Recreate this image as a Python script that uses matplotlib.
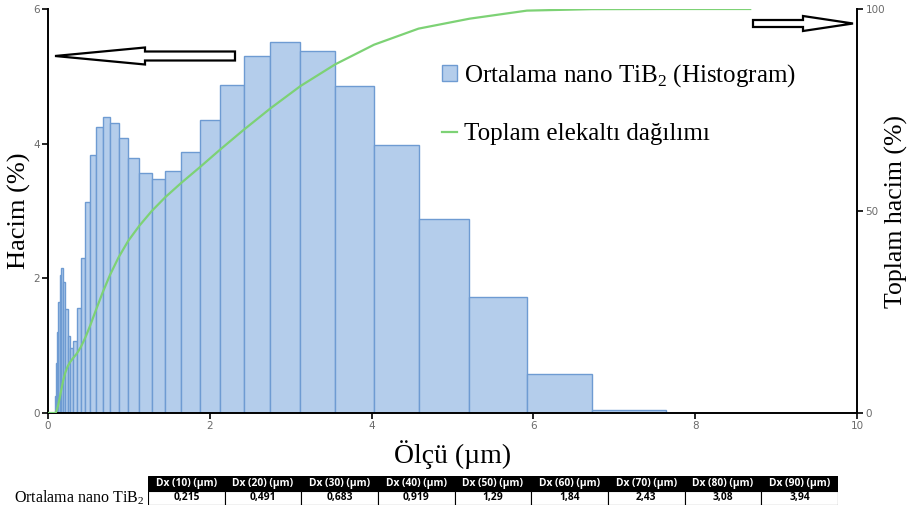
import numpy as np
import matplotlib
matplotlib.use("Agg")
import matplotlib.pyplot as plt
from matplotlib.patches import Patch, Rectangle, FancyArrow
from matplotlib.lines import Line2D
from matplotlib.transforms import IdentityTransform

plt.rcParams['font.family'] = ['Liberation Serif', 'DejaVu Serif']
plt.rcParams['mathtext.fontset'] = 'custom'
plt.rcParams['mathtext.rm'] = 'Liberation Serif'

# size class edges (um) and volume % per class
bin_edges = [0.0876, 0.0995, 0.113, 0.128, 0.146, 0.166, 0.188, 0.214, 0.243, 0.276,
             0.314, 0.357, 0.405, 0.460, 0.523, 0.594, 0.675, 0.767, 0.872, 0.991,
             1.13, 1.28, 1.45, 1.65, 1.88, 2.13, 2.42, 2.75, 3.12, 3.55,
             4.03, 4.58, 5.21, 5.92, 6.72, 7.64]
hacim = [0.25, 0.75, 1.2, 1.65, 2.05, 2.15, 1.95, 1.55, 1.15, 0.97,
         1.07, 1.56, 2.30, 3.13, 3.83, 4.25, 4.39, 4.31, 4.08, 3.78,
         3.57, 3.48, 3.59, 3.88, 4.35, 4.87, 5.30, 5.51, 5.38, 4.86,
         3.98, 2.88, 1.73, 0.58, 0.04]

# cumulative undersize curve
cum_x = [0.01, 0.0876, 0.0995, 0.113, 0.128, 0.146, 0.166, 0.188, 0.214, 0.243,
         0.276, 0.314, 0.357, 0.405, 0.460, 0.523, 0.594, 0.675, 0.767, 0.872,
         0.991, 1.13, 1.28, 1.45, 1.65, 1.88, 2.13, 2.42, 2.75, 3.12,
         3.55, 4.03, 4.58, 5.21, 5.92, 6.72, 7.64, 8.68]
cum_y = [0, 0, 0.25, 1.0, 2.2, 3.85, 5.9, 8.05, 10.0, 11.55,
         12.7, 13.67, 14.74, 16.3, 18.6, 21.73, 25.56, 29.81, 34.2, 38.51,
         42.59, 46.37, 49.94, 53.42, 57.01, 60.89, 65.24, 70.11, 75.41, 80.92,
         86.3, 91.16, 95.14, 97.6, 99.6, 99.96, 100, 100]

# Dx table
dx_headers = ["Dx (10) (µm)", "Dx (20) (µm)", "Dx (30) (µm)", "Dx (40) (µm)", "Dx (50) (µm)",
              "Dx (60) (µm)", "Dx (70) (µm)", "Dx (80) (µm)", "Dx (90) (µm)"]
dx_values = ["0,215", "0,491", "0,683", "0,919", "1,29", "1,84", "2,43", "3,08", "3,94"]

bar_face = '#b4cdeb'
bar_edge = '#6e9bd2'
line_col = '#7dd275'
tick_col = '#6a6a6a'

W, H = 912, 515
fig = plt.figure(figsize=(W/100, H/100), dpi=100)
ax = fig.add_axes([48/W, 1-413/H, (857-48)/W, (413-9)/H])

left = np.array(bin_edges[:-1])
widths = np.diff(bin_edges)
ax.bar(left, hacim, width=widths, align='edge', color=bar_face, edgecolor=bar_edge, linewidth=1.0)
ax.set_xlim(0, 10)
ax.set_ylim(0, 6)
ax.set_xticks([0, 2, 4, 6, 8, 10])
ax.set_yticks([0, 2, 4, 6])
ax.spines['top'].set_visible(False)
ax.spines['right'].set_visible(False)
ax.spines['left'].set_linewidth(1.4)
ax.spines['bottom'].set_linewidth(1.4)
ax.tick_params(direction='out', length=4, width=1.2, labelsize=7.5, labelcolor=tick_col, pad=2)
for lab in ax.get_xticklabels() + ax.get_yticklabels():
    lab.set_fontfamily('DejaVu Sans')
ax.set_xlabel("Ölçü (µm)", fontsize=20, labelpad=6)
ax.set_ylabel("Hacim (%)", fontsize=19)
ax.yaxis.set_label_coords(-0.021, 0.5)

ax2 = ax.twinx()
ax2.plot(cum_x, cum_y, color=line_col, linewidth=1.6)
ax2.set_ylim(0, 100)
ax2.set_yticks([0, 50, 100])
for s in ['top', 'left', 'bottom']:
    ax2.spines[s].set_visible(False)
ax2.spines['right'].set_linewidth(1.4)
ax2.tick_params(direction='out', length=4, width=1.2, labelsize=7.5, labelcolor=tick_col, pad=2)
for lab in ax2.get_yticklabels():
    lab.set_fontfamily('DejaVu Sans')
ax2.set_ylabel("Toplam hacim (%)", fontsize=18.5)
ax2.yaxis.set_label_coords(1.034, 0.5)

handles = [Patch(facecolor=bar_face, edgecolor=bar_edge, linewidth=1.0),
           Line2D([], [], color=line_col, linewidth=1.6)]
labels = ["Ortalama nano TiB$_2$ (Histogram)", "Toplam elekaltı dağılımı"]
ax2.legend(handles, labels, loc='upper left', bbox_to_anchor=(430/W, 1-50/H),
           bbox_transform=fig.transFigure, frameon=False, fontsize=18,
           handlelength=0.6, handleheight=0.6, handletextpad=0.25, labelspacing=1.35,
           borderpad=0)

# hollow arrows pointing to the axes
def hollow_arrow(x0, x1, y, w, hw, hl):
    a = FancyArrow(x0, H - y, x1 - x0, 0, width=w, head_width=hw, head_length=hl,
                   length_includes_head=True, facecolor='white', edgecolor='black',
                   linewidth=1.6, transform=IdentityTransform(), zorder=10)
    fig.add_artist(a)

hollow_arrow(235, 55, 56, 9, 17, 90)
hollow_arrow(753, 853, 23.5, 7, 15, 50)

# Dx table under the chart
tab = fig.add_axes([148/W, 1-505/H, (838-148)/W, (505-476)/H])
tab.set_xlim(0, len(dx_headers))
tab.set_ylim(0, 2)
tab.axis('off')
for i, (hd, val) in enumerate(zip(dx_headers, dx_values)):
    tab.add_patch(Rectangle((i, 1), 1, 1, facecolor='black', edgecolor='black', linewidth=0.8))
    tab.add_patch(Rectangle((i, 0), 1, 1, facecolor='white', edgecolor='black', linewidth=0.8))
    tab.text(i + 0.5, 1.5, hd, ha='center', va='center', color='white', fontsize=7.4,
             fontweight='bold', fontfamily='Open Sans')
    tab.text(i + 0.5, 0.5, val, ha='center', va='center', color='black', fontsize=7.4,
             fontweight='bold', fontfamily='Open Sans')
fig.text(145/W, 1-498/H, "Ortalama nano TiB$_2$", ha='right', va='center', fontsize=11.5)

fig.savefig("out.png", dpi=100)
